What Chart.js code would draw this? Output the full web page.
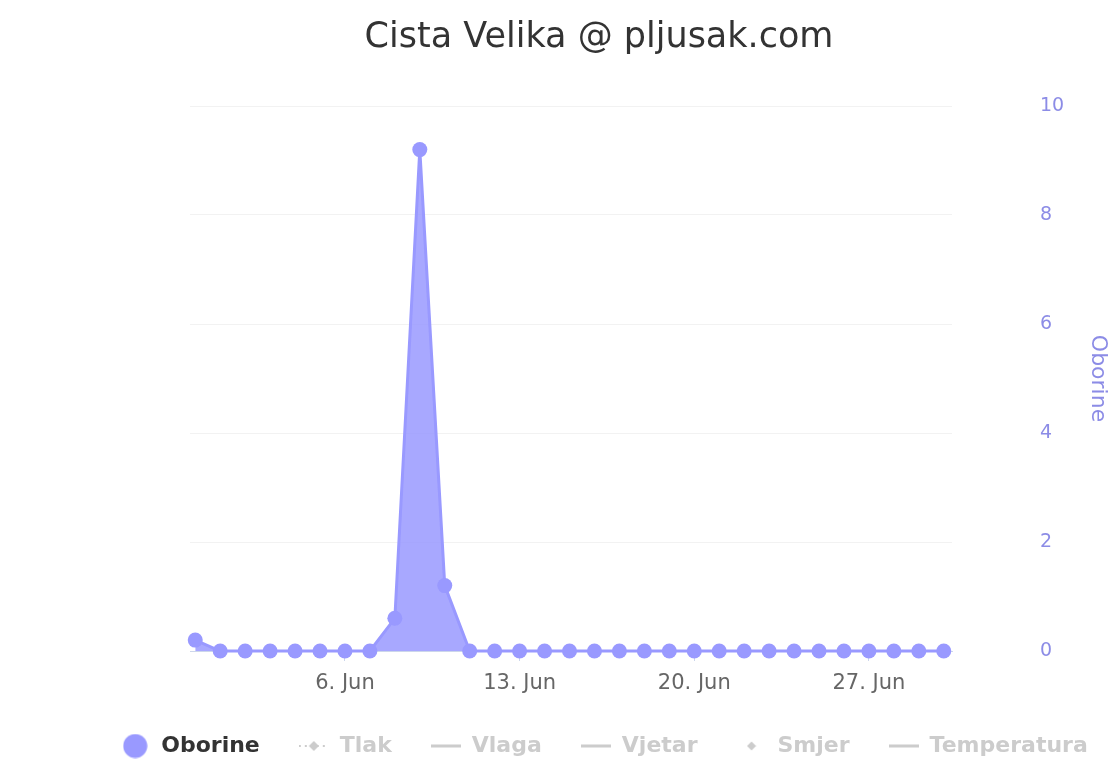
<!DOCTYPE html>
<html>
<head>
<meta charset="utf-8">
<script src="https://cdn.jsdelivr.net/npm/chart.js@4/dist/chart.umd.min.js"></script>
<style>
  html, body { margin: 0; padding: 0; background: #fff; overflow: hidden; }
  #wrap { position: relative; width: 1198px; height: 767px; }
</style>
</head>
<body>
<div id="wrap"><canvas id="c" width="1198" height="767"></canvas></div>
<script>
const dayLabels = ['31. May','1. Jun','2. Jun','3. Jun','4. Jun','5. Jun','6. Jun','7. Jun','8. Jun','9. Jun',
  '10. Jun','11. Jun','12. Jun','13. Jun','14. Jun','15. Jun','16. Jun','17. Jun','18. Jun','19. Jun',
  '20. Jun','21. Jun','22. Jun','23. Jun','24. Jun','25. Jun','26. Jun','27. Jun','28. Jun','29. Jun','30. Jun'];
const oborine = [0.2,0,0,0,0,0,0,0,0.6,9.2,1.2,0,0,0,0,0,0,0,0,0,0,0,0,0,0,0,0,0,0,0,0];
const xTickIdx = [6,13,20,27];
const yTicks = [0,2,4,6,8,10];
const seriesNames = ['Oborine','Tlak','Vlaga','Vjetar','Smjer','Temperatura'];
const tlak = [], vlaga = [], vjetar = [], smjer = [], temperatura = [];

const MAIN = '#9999ff';
const GREY = '#cccccc';

function mk(w, h, fn) { const c = document.createElement('canvas'); c.width = w; c.height = h; fn(c.getContext('2d')); return c; }
const symCircle = mk(25, 25, g => { g.fillStyle = MAIN; g.beginPath(); g.arc(12.5, 12.5, 12, 0, Math.PI*2); g.fill(); });
const symDashDiamond = mk(30, 12, g => {
  g.strokeStyle = GREY; g.lineWidth = 2; g.setLineDash([2,4]);
  g.beginPath(); g.moveTo(0, 6); g.lineTo(30, 6); g.stroke();
  g.fillStyle = GREY; g.beginPath(); g.moveTo(15, 1); g.lineTo(20, 6); g.lineTo(15, 11); g.lineTo(10, 6); g.closePath(); g.fill();
});
const symLine = mk(30, 4, g => { g.fillStyle = GREY; g.fillRect(0, 0.5, 30, 3); });
const symDiamond = mk(10, 10, g => { g.fillStyle = GREY; g.beginPath(); g.moveTo(5,0.5); g.lineTo(9.5,5); g.lineTo(5,9.5); g.lineTo(0.5,5); g.closePath(); g.fill(); });
const legendSymbols = [symCircle, symDashDiamond, symLine, symLine, symDiamond, symLine];

const toXY = arr => arr.map((v, i) => ({ x: i, y: v }));

const datasets = [
  { label: seriesNames[0], data: toXY(oborine), yAxisID: 'y', borderColor: MAIN, backgroundColor: 'rgba(153,153,255,0.85)',
    fill: 'origin', borderWidth: 3, pointRadius: 7.5, pointHoverRadius: 7.5, pointBackgroundColor: MAIN, pointBorderWidth: 0,
    tension: 0, clip: false },
  { label: seriesNames[1], data: toXY(tlak), yAxisID: 'yL' },
  { label: seriesNames[2], data: toXY(vlaga), yAxisID: 'yL' },
  { label: seriesNames[3], data: toXY(vjetar), yAxisID: 'yL' },
  { label: seriesNames[4], data: toXY(smjer), yAxisID: 'yL' },
  { label: seriesNames[5], data: toXY(temperatura), yAxisID: 'yL' }
];

const legendShift = {
  id: 'legendShift',
  afterLayout(chart) { const l = chart.legend; if (l) { l.left += 5; l.right += 5; } }
};

new Chart(document.getElementById('c'), {
  type: 'line',
  data: { datasets },
  plugins: [legendShift],
  options: {
    responsive: false,
    animation: false,
    events: [],
    layout: { padding: { left: 0, right: 0, top: 0, bottom: 0 } },
    plugins: {
      tooltip: { enabled: false },
      title: {
        display: true, text: 'Cista Velika @ pljusak.com', color: '#333333',
        font: { family: 'DejaVu Sans', size: 35, weight: 'normal' },
        padding: { top: 17, bottom: 47 }
      },
      legend: {
        display: true, position: 'bottom', align: 'center',
        labels: {
          usePointStyle: true, pointStyleWidth: 30, padding: 39,
          font: { family: 'DejaVu Sans', size: 22, weight: 'bold' },
          color: '#333333',
          generateLabels: chart => seriesNames.map((n, i) => ({
            text: n, datasetIndex: i, hidden: false, lineWidth: 0,
            fillStyle: i === 0 ? MAIN : GREY, strokeStyle: i === 0 ? MAIN : GREY,
            pointStyle: legendSymbols[i], fontColor: i === 0 ? '#333333' : GREY
          }))
        }
      }
    },
    scales: {
      x: {
        type: 'linear', min: -0.21, max: 30.33,
        afterBuildTicks: s => { s.ticks = xTickIdx.map(v => ({ value: v })); },
        afterFit: s => { s.height = 45; },
        grid: { drawOnChartArea: false, drawTicks: true, tickLength: 10, color: '#ccd6eb', lineWidth: 1 },
        border: { display: true, color: '#ccd6eb', width: 1 },
        ticks: {
          autoSkip: false, maxRotation: 0, padding: 10, color: '#666666',
          font: { family: 'DejaVu Sans', size: 21 },
          callback: v => dayLabels[v]
        }
      },
      y: {
        position: 'right', min: 0, max: 10,
        afterBuildTicks: s => { s.ticks = yTicks.map(v => ({ value: v })); },
        afterFit: s => { s.width = 246; },
        grid: { drawTicks: false, tickLength: 0, color: '#f2f2f2', lineWidth: 1 },
        border: { display: false },
        ticks: { padding: 88, color: '#8c8ce6', font: { family: 'DejaVu Sans', size: 19 } },
        title: { display: true, text: 'Oborine', color: '#8c8ce6', font: { family: 'DejaVu Sans', size: 22 },
                 padding: { top: 86.8, bottom: 21.8 } }
      },
      yL: {
        position: 'left', display: true,
        grid: { display: false, drawTicks: false }, border: { display: false },
        ticks: { display: false },
        afterFit: s => { s.width = 190; }
      }
    }
  }
});
</script>
</body>
</html>
